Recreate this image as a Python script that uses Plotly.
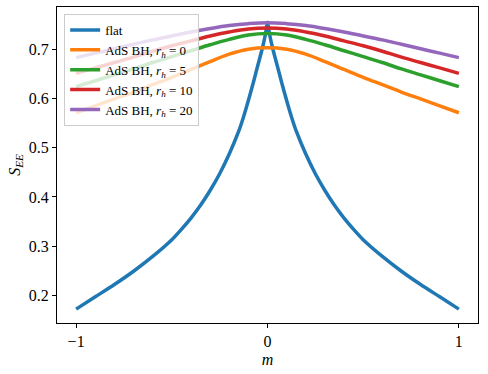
import plotly.graph_objects as go

# values
m_flat = [-1.0, -0.9, -0.8, -0.7, -0.6, -0.5, -0.45, -0.4, -0.35, -0.3, -0.25, -0.2,
          -0.15, -0.125, -0.1, -0.075, -0.05, -0.025, -0.01, 0.0,
          0.01, 0.025, 0.05, 0.075, 0.1, 0.125, 0.15, 0.2, 0.25, 0.3, 0.35, 0.4,
          0.45, 0.5, 0.6, 0.7, 0.8, 0.9, 1.0]
s_flat = [0.172, 0.197, 0.222, 0.249, 0.279, 0.313, 0.334, 0.357, 0.383, 0.413, 0.447, 0.487,
          0.534, 0.563, 0.596, 0.631, 0.668, 0.705, 0.732, 0.755,
          0.732, 0.705, 0.668, 0.631, 0.596, 0.563, 0.534, 0.487, 0.447, 0.413, 0.383, 0.357,
          0.334, 0.313, 0.279, 0.249, 0.222, 0.197, 0.172]

m_ads = [-1.0, -0.9, -0.8, -0.7, -0.6, -0.5, -0.4, -0.3, -0.2, -0.1, 0.0,
         0.1, 0.2, 0.3, 0.4, 0.5, 0.6, 0.7, 0.8, 0.9, 1.0]
s_rh0 = [0.571, 0.585, 0.599, 0.613, 0.628, 0.643, 0.659, 0.675, 0.690, 0.700, 0.703,
         0.700, 0.690, 0.675, 0.659, 0.643, 0.628, 0.613, 0.599, 0.585, 0.571]
s_rh5 = [0.624, 0.636, 0.648, 0.660, 0.673, 0.685, 0.697, 0.709, 0.720, 0.729, 0.732,
         0.729, 0.720, 0.709, 0.697, 0.685, 0.673, 0.660, 0.648, 0.636, 0.624]
s_rh10 = [0.651, 0.662, 0.673, 0.684, 0.696, 0.707, 0.717, 0.727, 0.735, 0.741, 0.743,
          0.741, 0.735, 0.727, 0.717, 0.707, 0.696, 0.684, 0.673, 0.662, 0.651]
s_rh20 = [0.683, 0.692, 0.701, 0.710, 0.719, 0.727, 0.735, 0.742, 0.748, 0.752, 0.754,
          0.752, 0.748, 0.742, 0.735, 0.727, 0.719, 0.710, 0.701, 0.692, 0.683]

names = ["flat",
         "AdS BH, <i>r</i><sub><i>h</i></sub> = 0",
         "AdS BH, <i>r</i><sub><i>h</i></sub> = 5",
         "AdS BH, <i>r</i><sub><i>h</i></sub> = 10",
         "AdS BH, <i>r</i><sub><i>h</i></sub> = 20"]
colors = ["#1f77b4", "#ff7f0e", "#2ca02c", "#d62728", "#9467bd"]

fig = go.Figure()
fig.add_trace(go.Scatter(x=m_flat, y=s_flat, mode="lines", name=names[0],
                         line=dict(color=colors[0], width=3.5, shape="spline", smoothing=0.8)))
for i, s in enumerate([s_rh0, s_rh5, s_rh10, s_rh20]):
    fig.add_trace(go.Scatter(x=m_ads, y=s, mode="lines", name=names[i + 1],
                             line=dict(color=colors[i + 1], width=3.5, shape="spline")))

serif = "Liberation Serif"
axis_common = dict(showgrid=False, zeroline=False, showline=True, mirror=True,
                   linecolor="black", linewidth=1, ticks="outside", ticklen=4,
                   tickcolor="black", automargin=False,
                   tickfont=dict(family=serif, size=16, color="black"))

fig.update_layout(
    width=488, height=374,
    margin=dict(l=57, r=10, t=7, b=51),
    paper_bgcolor="white", plot_bgcolor="white",
    font=dict(family=serif, color="black"),
    showlegend=True,
    legend=dict(x=0.017, y=0.978, xanchor="left", yanchor="top",
                bgcolor="rgba(255,255,255,0.8)", bordercolor="#cccccc", borderwidth=1,
                font=dict(family=serif, size=13, color="black"), tracegroupgap=0),
)
fig.update_xaxes(range=[-1.1, 1.1], tickvals=[-1, 0, 1], ticktext=["\u22121", "0", "1"],
                 title=dict(text="<i>m</i>", font=dict(family=serif, size=16), standoff=4),
                 **axis_common)
fig.update_yaxes(range=[0.1438, 0.7858], tickvals=[0.2, 0.3, 0.4, 0.5, 0.6, 0.7],
                 ticktext=["0.2", "0.3", "0.4", "0.5", "0.6", "0.7"],
                 title=dict(text="<i>S</i><sub><i>EE</i></sub>", font=dict(family=serif, size=16), standoff=4),
                 **axis_common)

# the page body has an 8px margin by default; drop it so the figure fills the window
fig.write_html("out.html", config={"displayModeBar": False},
               post_script="document.body.style.margin='0';")
